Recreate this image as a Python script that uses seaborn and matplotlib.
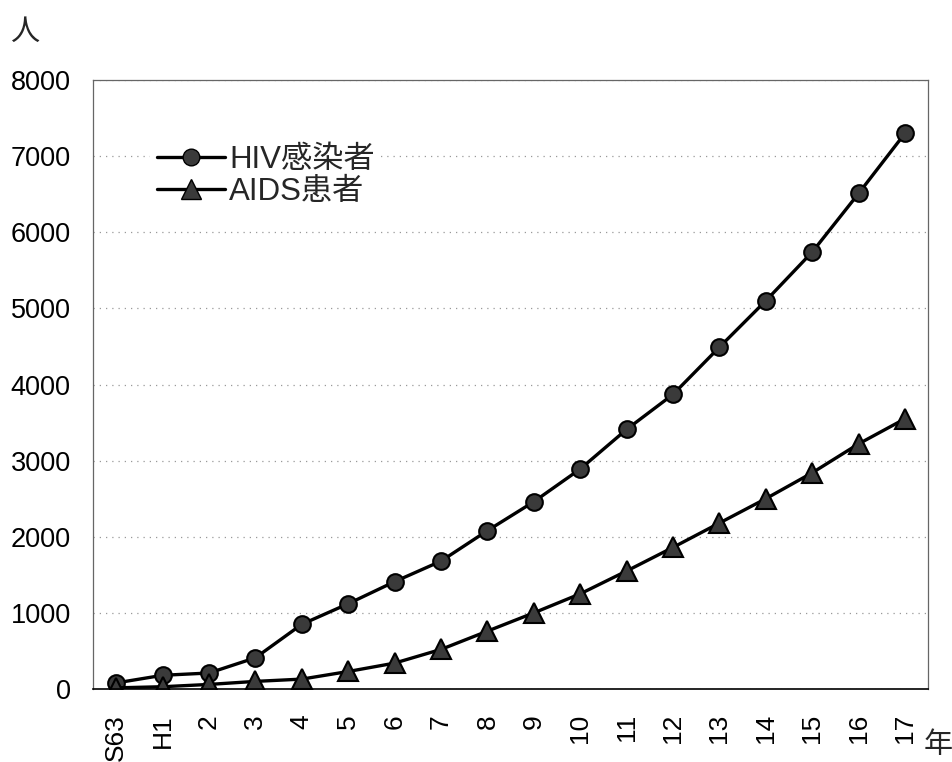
import matplotlib
matplotlib.use("Agg")
import matplotlib.pyplot as plt
import seaborn as sns
import pandas as pd
import numpy as np

years = ["S63", "H1", "2", "3", "4", "5", "6", "7", "8", "9",
         "10", "11", "12", "13", "14", "15", "16", "17"]
hiv = [80, 180, 210, 410, 850, 1120, 1410, 1680, 2080, 2460,
       2890, 3410, 3870, 4490, 5100, 5740, 6510, 7300]
aids = [15, 30, 60, 100, 130, 230, 340, 520, 760, 1000,
        1250, 1550, 1860, 2180, 2500, 2840, 3220, 3550]
series_names = ["HIV感染者", "AIDS患者"]
yticks = [0, 1000, 2000, 3000, 4000, 5000, 6000, 7000, 8000]

sns.set_theme(style="white")
plt.rcParams['font.family'] = ['Liberation Sans', 'Noto Sans CJK JP', 'DejaVu Sans']

df = pd.DataFrame({
    "year": years * 2,
    "pos": list(range(len(years))) * 2,
    "value": hiv + aids,
    "series": [series_names[0]] * len(years) + [series_names[1]] * len(years),
})

fig = plt.figure(figsize=(9.52, 7.62), dpi=100)
ax = fig.add_axes([0.0977, 0.0958, 0.8773, 0.7992])

sns.lineplot(data=df, x="pos", y="value", hue="series", style="series",
             markers={series_names[0]: "o", series_names[1]: "^"},
             dashes=False, palette={series_names[0]: "black", series_names[1]: "black"},
             linewidth=2.4, markersize=13, markerfacecolor="#3a3a3a",
             markeredgecolor="black", markeredgewidth=1.5, ax=ax, legend=False)

for line, ms in zip(ax.lines, [12, 15]):
    line.set_markersize(ms)
    line.set_markerfacecolor("#3a3a3a")
    line.set_markeredgecolor("black")

ax.set_xlim(-0.5, len(years) - 0.5)
ax.set_ylim(0, 8000)
ax.set_yticks(yticks)
ax.set_yticklabels([str(v) for v in yticks], fontsize=19.5)
ax.set_xticks(range(len(years)))
ax.set_xticklabels(years, rotation=90, fontsize=19)
ax.set_xticks(np.arange(-0.5, len(years), 1.0), minor=True)
ax.tick_params(axis="x", which="major", length=0, pad=18)
ax.tick_params(axis="x", which="minor", direction="in", length=7, width=0.8, color="#555555")
ax.tick_params(axis="y", which="major", direction="in", length=6, width=0.8, color="#555555", pad=16)
for lab in ax.get_xticklabels() + ax.get_yticklabels():
    lab.set_color("black")

ax.set_xlabel("")
ax.set_ylabel("")
ax.yaxis.grid(True, linestyle=(0, (1, 4)), color="#999999", linewidth=0.9)
ax.xaxis.grid(False)
for name, sp in ax.spines.items():
    sp.set_visible(True)
    sp.set_color("#666666")
    sp.set_linewidth(0.9)
ax.spines["bottom"].set_color("black")
ax.spines["bottom"].set_linewidth(1.2)

from matplotlib.lines import Line2D
handles = [
    Line2D([], [], color="black", lw=2.4, marker="o", markersize=12,
           markerfacecolor="#3a3a3a", markeredgecolor="black"),
    Line2D([], [], color="black", lw=2.4, marker="^", markersize=15,
           markerfacecolor="#3a3a3a", markeredgecolor="black"),
]
leg = ax.legend(handles, series_names, loc="upper left", bbox_to_anchor=(0.05, 0.93),
                frameon=True, facecolor="white", edgecolor="none", framealpha=1,
                fontsize=22.5, handlelength=2.2, handletextpad=0.12, labelspacing=0.08,
                borderpad=0.2)

fig.text(0.010, 0.958, "人", fontsize=21, ha="left", va="center")
fig.text(0.970, 0.022, "年", fontsize=21, ha="left", va="center")

fig.savefig("out.png", dpi=100, facecolor="white")
